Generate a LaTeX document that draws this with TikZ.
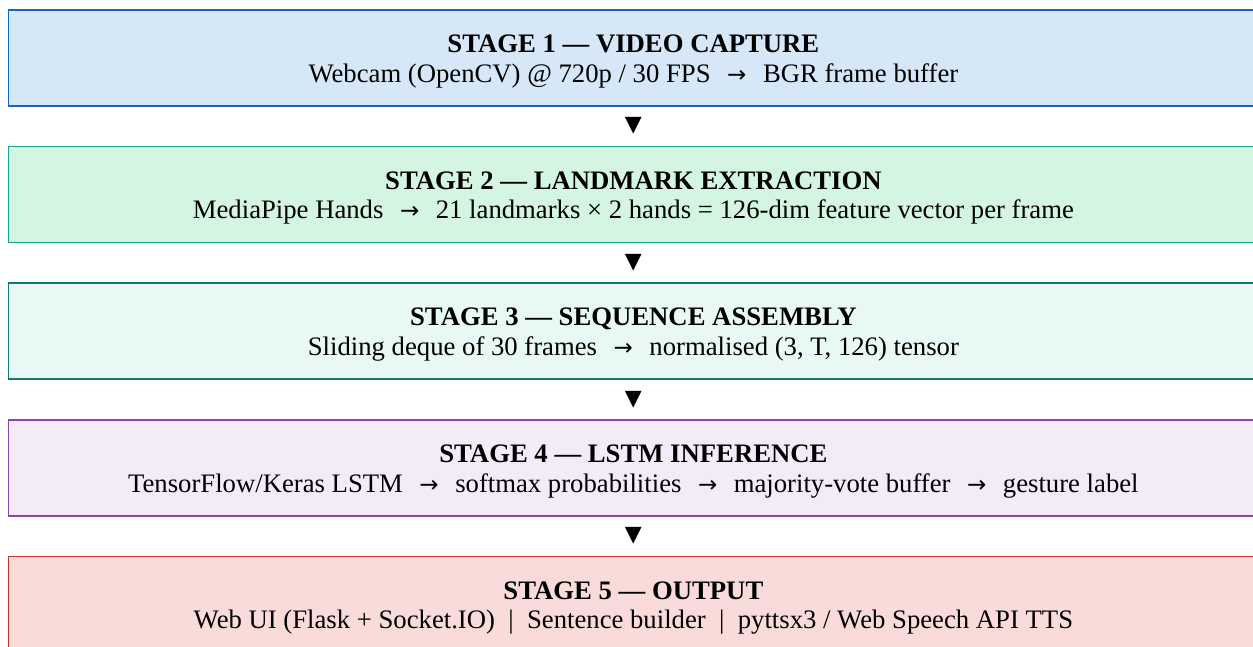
\documentclass[tikz,border=0pt]{standalone}
\usepackage{fontspec}
\setmainfont{Liberation Serif}
\newfontfamily\arrowfont{DejaVu Sans}
\usetikzlibrary{calc}
\definecolor{f1}{HTML}{D6E8F7}\definecolor{d1}{HTML}{1565C0}
\definecolor{f2}{HTML}{D4F5E2}\definecolor{d2}{HTML}{17A589}
\definecolor{f3}{HTML}{E8F8F5}\definecolor{d3}{HTML}{117A6E}
\definecolor{f4}{HTML}{F3EBF8}\definecolor{d4}{HTML}{8E44AD}
\definecolor{f5}{HTML}{F9DCDA}\definecolor{d5}{HTML}{C0392B}
\newcommand{\ar}{\hspace{0.62em}{\arrowfont\fontsize{23}{23}\selectfont →}\hspace{0.62em}}
\newcommand{\topstrut}{\rule{0pt}{25pt}}
\begin{document}
\begin{tikzpicture}[x=1pt,y=-1pt,
  stagebox/.style={draw=#1, line width=1.8pt, rectangle, anchor=north west,
    minimum width=1250pt, minimum height=96pt, inner sep=0pt,
    align=center, font=\fontsize{26.7}{29.5}\selectfont},
  down/.style={font=\arrowfont\fontsize{22}{22}\selectfont, inner sep=0pt}]
\useasboundingbox (0,0) rectangle (1253,646);
\node[stagebox=d1, fill=f1] (s1) at (7.5,9) {\topstrut\textbf{STAGE 1 — VIDEO CAPTURE}\\Webcam (OpenCV) @ 720p / 30 FPS\ar BGR frame buffer};
\node[stagebox=d2, fill=f2] (s2) at (7.5,145.5) {\topstrut\textbf{STAGE 2 — LANDMARK EXTRACTION}\\MediaPipe Hands\ar 21 landmarks × 2 hands = 126-dim feature vector per frame};
\node[stagebox=d3, fill=f3] (s3) at (7.5,282) {\topstrut\textbf{STAGE 3 — SEQUENCE ASSEMBLY}\\Sliding deque of 30 frames\ar normalised (3, T, 126) tensor};
\node[stagebox=d4, fill=f4] (s4) at (7.5,419) {\topstrut\textbf{STAGE 4 — LSTM INFERENCE}\\TensorFlow/Keras LSTM\ar softmax probabilities\ar majority-vote buffer\ar gesture label};
\node[stagebox=d5, fill=f5] (s5) at (7.5,555.5) {\topstrut\textbf{STAGE 5 — OUTPUT}\\Web UI (Flask + Socket.IO) ~|~ Sentence builder ~|~ pyttsx3 / Web Speech API TTS};
\node[down] (a1) at ($(s1.south)!0.5!(s2.north)$) {▼};
\node[down] (a2) at ($(s2.south)!0.5!(s3.north)$) {▼};
\node[down] (a3) at ($(s3.south)!0.5!(s4.north)$) {▼};
\node[down] (a4) at ($(s4.south)!0.5!(s5.north)$) {▼};
\end{tikzpicture}
\end{document}
